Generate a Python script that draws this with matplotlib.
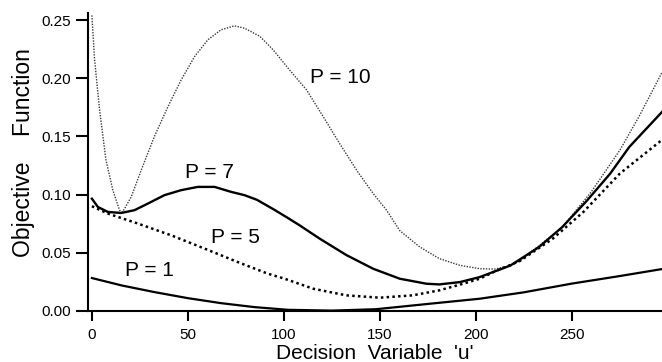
import matplotlib
matplotlib.use('Agg')
import matplotlib.pyplot as plt

# --- data ---
u_p10 = [0, 1.4, 4, 7.3, 10.9, 14.4, 16, 20.5, 25.7, 32.6, 39.6, 46.5, 53.5, 60.4, 67.3,
         74.3, 79.5, 87.5, 94.4, 103, 111.8, 120.5, 129, 137.9, 146.5, 153.5, 160.4, 170.8,
         181, 191.7, 202, 210, 218, 223, 245, 260, 275, 285, 297]
f_p10 = [0.254, 0.216, 0.173, 0.130, 0.104, 0.0865, 0.085, 0.098, 0.121, 0.150, 0.1755,
         0.1985, 0.2186, 0.233, 0.2416, 0.245, 0.243, 0.236, 0.2244, 0.207, 0.190, 0.167,
         0.144, 0.121, 0.101, 0.0866, 0.069, 0.055, 0.045, 0.0392, 0.0363, 0.036, 0.039,
         0.043, 0.072, 0.102, 0.138, 0.167, 0.205]

u_p7 = [0, 3.1, 8.3, 15.3, 22.2, 29.2, 37.8, 46.5, 55.2, 63.9, 72.6, 79.5, 86, 95, 102,
        108.3, 118.8, 132.6, 146.5, 160.4, 174.3, 181, 191.7, 202, 218, 233, 245, 258, 270,
        280, 297]
f_p7 = [0.0965, 0.0894, 0.0851, 0.0842, 0.0866, 0.0923, 0.0995, 0.1038, 0.1066, 0.1066,
        0.1023, 0.0995, 0.0955, 0.087, 0.080, 0.0735, 0.062, 0.048, 0.0363, 0.0277, 0.0234,
        0.0228, 0.0248, 0.0291, 0.039, 0.055, 0.072, 0.095, 0.118, 0.141, 0.171]

u_p5 = [0, 8.3, 24, 41.3, 58.7, 76, 91.7, 100.4, 115.3, 132.6, 150, 167, 181, 193.4, 202,
        210, 223, 240, 256, 275, 297]
f_p5 = [0.090, 0.0837, 0.0751, 0.065, 0.0536, 0.042, 0.032, 0.0277, 0.0191, 0.0134, 0.0114,
        0.0134, 0.0177, 0.0234, 0.0277, 0.034, 0.043, 0.062, 0.085, 0.118, 0.147]

u_p1 = [0, 15.3, 32.6, 50, 67.3, 84.7, 102, 125, 148, 176, 202, 225, 250, 275, 297]
f_p1 = [0.0283, 0.022, 0.0162, 0.011, 0.0067, 0.0033, 0.001, 0.0003, 0.0015, 0.0062, 0.0105,
        0.016, 0.0235, 0.030, 0.036]

labels = ["P = 10", "P = 7", "P = 5", "P = 1"]
label_pos = [(113.5, 0.201), (48.4, 0.119), (62, 0.063), (17.2, 0.0345)]

xticks = [0, 50, 100, 150, 200, 250]
yticks = [0.00, 0.05, 0.10, 0.15, 0.20, 0.25]

plt.rcParams['font.family'] = ['Liberation Sans', 'DejaVu Sans']

fig = plt.figure(figsize=(6.62, 3.62), dpi=100)
ax = fig.add_axes([0.133, 0.141, 0.867, 0.823])

ax.plot(u_p10, f_p10, color='#3a3a3a', lw=1.0, linestyle=(0, (1, 1)))
ax.plot(u_p7, f_p7, color='black', lw=1.7, solid_joinstyle='round')
ax.plot(u_p5, f_p5, color='black', lw=1.8, linestyle=(0, (1, 1.3)))
ax.plot(u_p1, f_p1, color='black', lw=1.6, solid_joinstyle='round')

for txt, (x, y) in zip(labels, label_pos):
    ax.text(x, y, txt, fontsize=15, va='center', ha='left')

ax.set_xlim(-2, 297)
ax.set_ylim(0, 0.256)
ax.set_xticks(xticks)
ax.set_xticklabels([str(t) for t in xticks])
ax.set_yticks(yticks)
ax.set_yticklabels([f"{t:.2f}" for t in yticks])

for s in ['top', 'right']:
    ax.spines[s].set_visible(False)
for s in ['left', 'bottom']:
    ax.spines[s].set_linewidth(1.5)

ax.tick_params(axis='y', direction='out', length=8.5, width=1.5, pad=3.5, labelsize=11)
ax.tick_params(axis='x', direction='out', length=7, width=1.5, pad=5, labelsize=11)

ax.set_xlabel("Decision  Variable  'u'", fontsize=15)
ax.xaxis.set_label_coords(0.5, -0.112)
ax.set_ylabel("Objective    Function", fontsize=16.5)
ax.yaxis.set_label_coords(-0.093, 0.53)

fig.savefig("out.png", dpi=100)
